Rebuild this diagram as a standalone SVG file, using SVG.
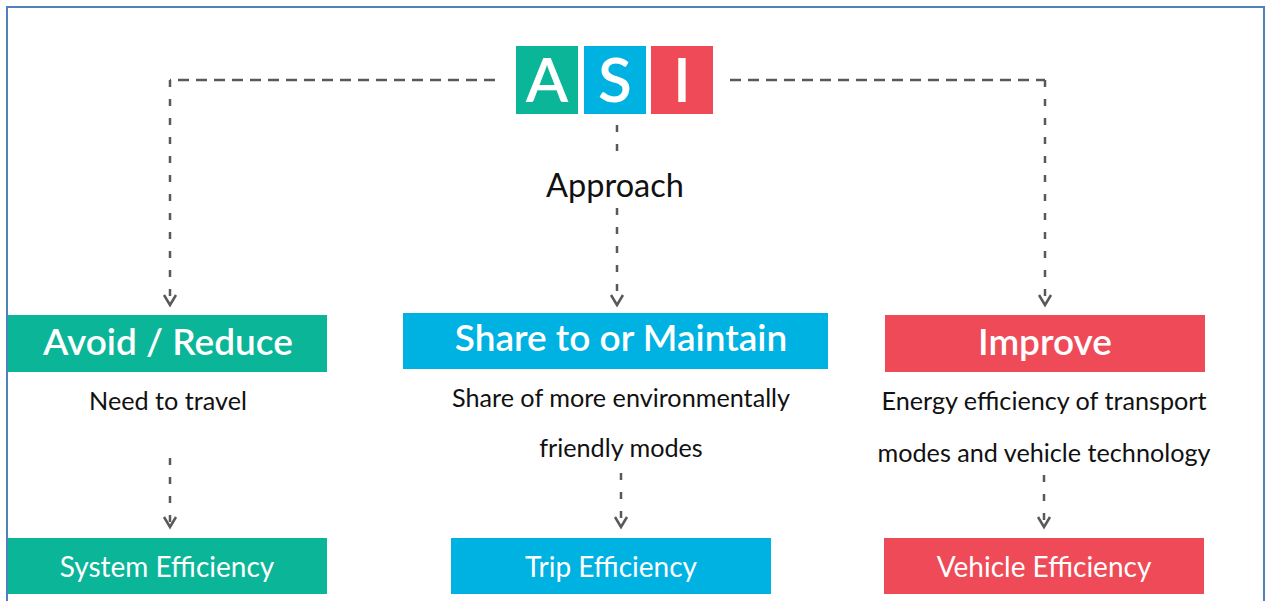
<svg xmlns="http://www.w3.org/2000/svg" width="1266" height="601" viewBox="0 0 1266 601">
<style>
.green{fill:#0BB597}
.blue{fill:#00B2E2}
.red{fill:#EF4A57}
.letter{font-family:Lato,"Open Sans",sans-serif;font-weight:600;font-size:62px;fill:#fff;text-anchor:middle}
.head{font-family:Lato,"Open Sans",sans-serif;font-weight:600;font-size:37px;fill:#fff;text-anchor:middle}
.sub{font-family:Lato,"Open Sans",sans-serif;font-size:28px;fill:#fff;text-anchor:middle}
.desc{font-family:Lato,"Open Sans",sans-serif;font-size:25.2px;fill:#111;text-anchor:middle}
.h{fill:none;stroke:#595959;stroke-width:2.5;stroke-dasharray:11 7}
.v{fill:none;stroke:#595959;stroke-width:2.5;stroke-dasharray:7 12}
</style>
<defs>
<marker id="arr" markerUnits="userSpaceOnUse" markerWidth="16" markerHeight="16" viewBox="0 0 16 16" refX="13" refY="8" orient="auto">
<path d="M3 2 L13 8 L3 14" fill="none" stroke="#595959" stroke-width="2.5"/>
</marker>
</defs>
<rect x="7" y="7" width="1257" height="620" fill="#fff" stroke="#4F81BD" stroke-width="2"/>
<g id="connectors">
<path class="h" d="M495 80 H170"/>
<path class="v" d="M170 80 V305" marker-end="url(#arr)"/>
<path class="h" d="M730 80 H1045"/>
<path class="v" d="M1045 80 V305" marker-end="url(#arr)"/>
<path class="v" d="M617 125 V162"/>
<path class="v" d="M617 208 V305" marker-end="url(#arr)"/>
<path class="v" d="M170 458 V527" marker-end="url(#arr)"/>
<path class="v" d="M621 473 V527" marker-end="url(#arr)"/>
<path class="v" d="M1044 475 V527" marker-end="url(#arr)"/>
</g>
<g id="asi">
<rect class="green" x="516" y="46" width="62" height="68"/>
<rect class="blue" x="584" y="46" width="62" height="68"/>
<rect class="red" x="651" y="46" width="62" height="68"/>
<text class="letter" x="547" y="102">A</text>
<text class="letter" x="615" y="102">S</text>
<text class="letter" x="682" y="102">I</text>
</g>
<g id="approach">
<text font-family="Lato,'Open Sans',sans-serif" font-size="32.5" fill="#111" text-anchor="middle" x="615" y="197">Approach</text>
</g>
<g id="avoid">
<rect class="green" x="8" y="315" width="319" height="57"/>
<text class="head" x="168" y="355" font-size="36">Avoid / Reduce</text>
<text class="desc" x="168" y="410">Need to travel</text>
</g>
<g id="share">
<rect class="blue" x="403" y="313" width="425" height="56"/>
<text class="head" x="621" y="351">Share to or Maintain</text>
<text class="desc" x="621" y="407">Share of more environmentally</text>
<text class="desc" x="621" y="457">friendly modes</text>
</g>
<g id="improve">
<rect class="red" x="885" y="315" width="320" height="57"/>
<text class="head" x="1045" y="355">Improve</text>
<text class="desc" x="1044" y="410">Energy efficiency of transport</text>
<text class="desc" x="1044" y="462">modes and vehicle technology</text>
</g>
<g id="system">
<rect class="green" x="8" y="538" width="319" height="56"/>
<text class="sub" x="167" y="577">System Efficiency</text>
</g>
<g id="trip">
<rect class="blue" x="451" y="538" width="320" height="56"/>
<text class="sub" x="611" y="577">Trip Efficiency</text>
</g>
<g id="vehicle">
<rect class="red" x="884" y="538" width="320" height="56"/>
<text class="sub" x="1044" y="577">Vehicle Efficiency</text>
</g>
</svg>
